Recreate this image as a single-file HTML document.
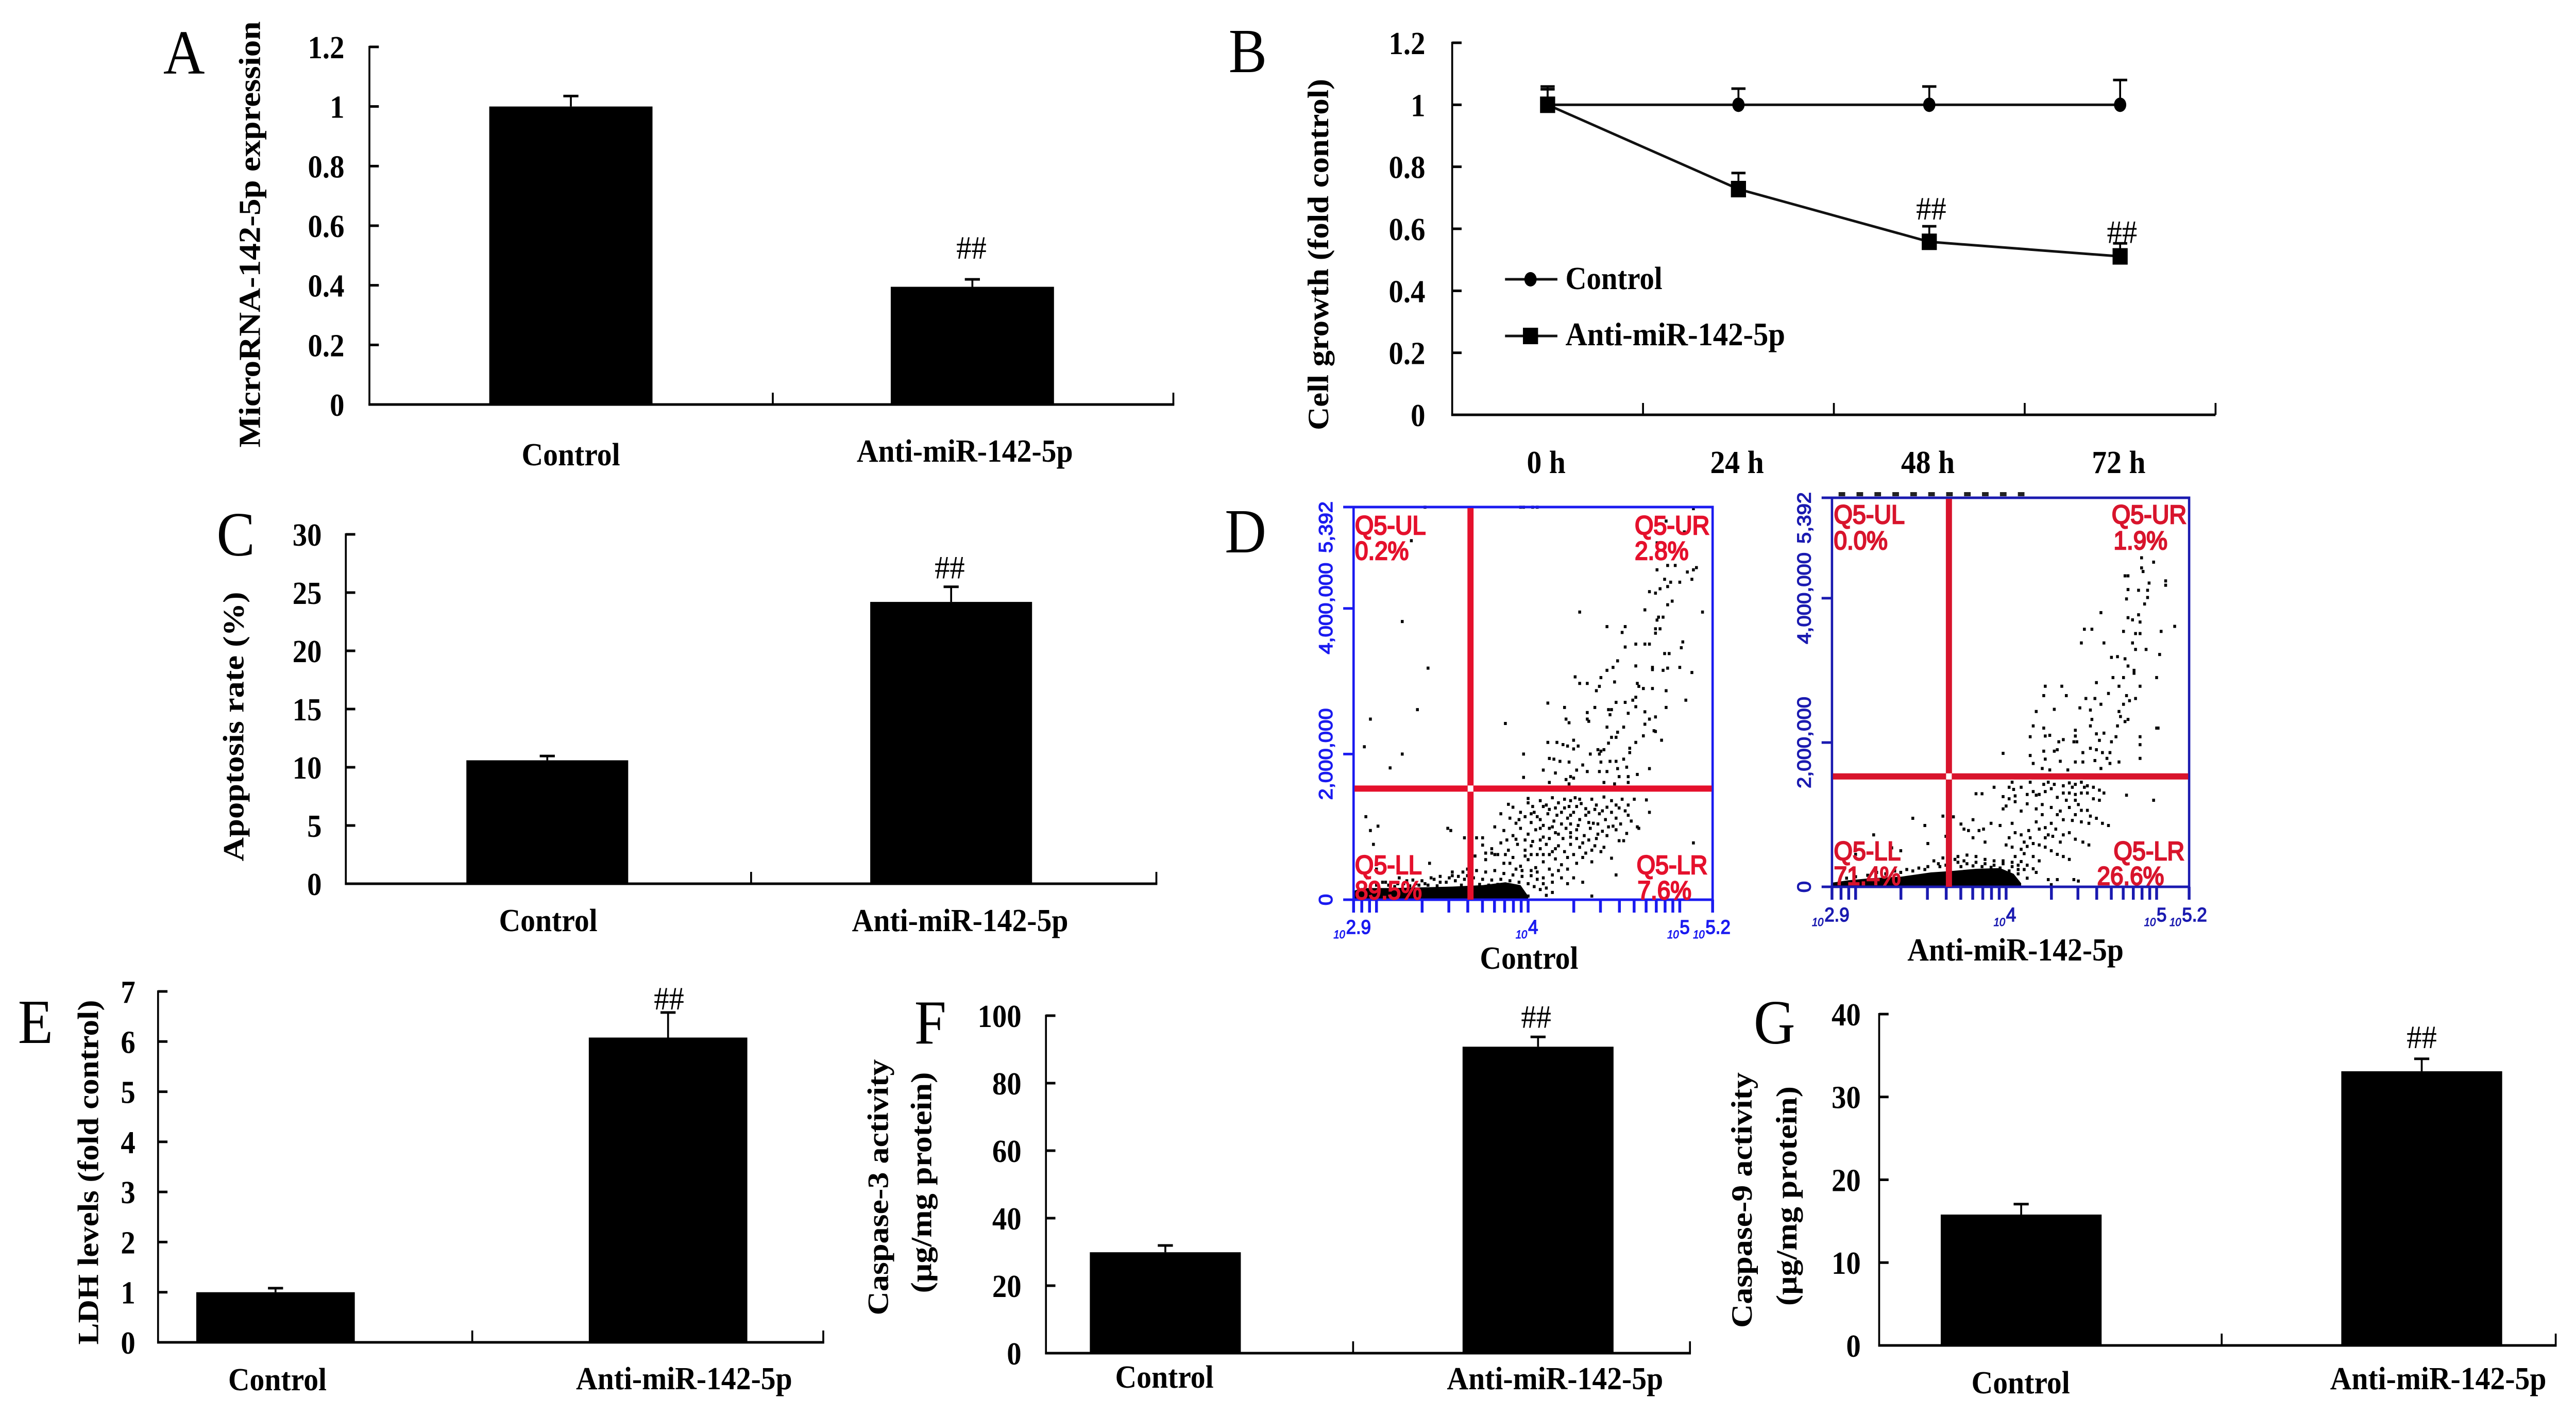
<!DOCTYPE html>
<html lang="en">
<head>
<meta charset="utf-8">
<title>miR-142-5p figure panels A-G</title>
<style>
html,body{margin:0;padding:0;background:#fff;width:100%;height:100%;overflow:hidden}
svg{display:block;width:100%;height:100%}
text{font-family:"Liberation Serif","Noto Serif CJK SC",serif;fill:#000}
.flow{font-family:"Liberation Sans","Noto Sans CJK SC",sans-serif}
</style>
</head>
<body>
<svg id="figure" xmlns="http://www.w3.org/2000/svg" viewBox="0 0 5460 2746" preserveAspectRatio="none">
<rect x="0" y="0" width="5460" height="2746" fill="#fff"/>
</svg>
<script>
/* ---------- Shared categories ---------- */
const barCategories = ['Control', 'Anti-miR-142-5p'];

/* ---------- Panel A ---------- */
const panelATicks = [0, 0.2, 0.4, 0.6, 0.8, 1, 1.2];
const panelAValues = [1.0, 0.395];
const panelAErrors = [0.035, 0.025];

/* ---------- Panel B ---------- */
const panelBTicks = [0, 0.2, 0.4, 0.6, 0.8, 1, 1.2];
const panelBTimes = ['0 h', '24 h', '48 h', '72 h'];
const panelBControl = [1, 1, 1, 1];
const panelBControlErr = [0.059, 0.052, 0.059, 0.08];
const panelBAnti = [1, 0.728, 0.558, 0.511];
const panelBAntiErr = [0.05, 0.052, 0.05, 0.042];
const panelBSignificant = [false, false, true, true];

/* ---------- Panel C ---------- */
const panelCTicks = [0, 5, 10, 15, 20, 25, 30];
const panelCValues = [10.6, 24.2];
const panelCErrors = [0.37, 1.3];

/* ---------- Panel E ---------- */
const panelETicks = [0, 1, 2, 3, 4, 5, 6, 7];
const panelEValues = [1.0, 6.08];
const panelEErrors = [0.08, 0.5];

/* ---------- Panel F ---------- */
const panelFTicks = [0, 20, 40, 60, 80, 100];
const panelFValues = [29.9, 90.8];
const panelFErrors = [2.0, 2.9];

/* ---------- Panel G ---------- */
const panelGTicks = [0, 10, 20, 30, 40];
const panelGValues = [15.8, 33.1];
const panelGErrors = [1.26, 1.5];

/* ---------- Panel D: flow cytometry axes ---------- */
const flowMinorTicks = [800, 900, 1000, 2000, 3000, 4000, 5000, 6000, 7000, 8000, 9000, 10000, 20000, 30000, 40000, 50000, 60000, 70000, 80000, 90000, 100000];
const flowXExponents = ['2.9', '4', '5', '5.2'];
const flowYTicks = [0, 2, 4, 5.392];
const flowYLabels = ['0', '2,000,000', '4,000,000', '5,392'];

/* Each event: [log10 of x signal, y signal in millions] */
const controlEvents = [
[3.32,5.39],[3.95,5.39],[3.97,5.39],[4.03,5.39],[4.06,5.39],[5.09,5.37],[4.91,5.2],[5.03,5.05],[4.85,4.9],[3.23,4.93],
[4.85,4.53],[4.92,4.59],[4.97,4.59],[5.11,4.56],[5.05,4.5],[5.09,4.53],[5.08,4.4],[5.0,4.36],[4.9,4.4],[4.94,4.36],[4.92,4.3],[4.8,4.23],[4.84,4.21],[4.87,4.27],[4.95,4.1],[4.92,4.05],[4.77,3.98],[5.15,3.95],[4.34,3.95],[4.86,3.88],[4.85,3.84],[4.89,3.88],[4.52,3.75],[4.64,3.75],[4.62,3.67],[4.84,3.72],[4.87,3.72],[4.84,3.66],[4.71,3.51],[4.77,3.51],[4.8,3.51],[4.64,3.47],[5.02,3.54],[5.01,3.46],[4.9,3.38],[4.93,3.38],[4.59,3.28],[4.71,3.21],[4.56,3.19],[4.52,3.15],[4.82,3.19],[4.82,3.16],[4.89,3.15],[4.92,3.18],[5.0,3.19],[5.08,3.12],[4.31,3.06],[4.48,3.05],[4.57,2.99],[4.34,2.97],[4.39,2.97],[4.47,2.93],[4.72,2.97],[4.73,2.93],[4.76,2.9],[4.82,2.9],[4.45,2.87],[4.91,2.87],[4.71,2.78],[4.69,2.74],[4.64,2.71],[5.04,2.74],[4.13,2.7],[4.58,2.71],[4.24,2.64],[4.44,2.64],[4.53,2.61],[4.55,2.61],[4.91,2.64],[4.66,2.56],[4.71,2.65],[4.77,2.58],[4.39,2.57],[4.54,2.54],[4.84,2.51],[4.8,2.48],[4.25,2.48],[4.39,2.48],[4.27,2.43],[4.4,2.45],[4.77,2.41],[3.85,2.42],[4.52,2.37],[4.63,2.37],[4.59,2.3],[4.83,2.32],[4.84,2.31],[4.76,2.25],[4.55,2.23],[4.58,2.23],[4.88,2.19],[4.3,2.19],[4.53,2.15],[4.13,2.16],[4.19,2.16],[4.71,2.16],[4.23,2.13],[4.26,2.11],[4.33,2.11],[4.3,2.07],[4.67,2.08],[4.46,2.06],[4.48,2.04],[4.5,2.06],[4.41,2.0],[4.47,2.0],[3.97,2.0],[4.67,2.02],[4.63,1.93],[4.14,1.94],[4.17,1.93],[4.21,1.9],[4.27,1.89],[4.36,1.85],[4.48,1.89],[4.54,1.9],[4.58,1.9],[4.8,1.8],[4.65,1.82],[4.59,1.8],[4.52,1.76],[4.32,1.78],[4.1,1.78],[4.18,1.74],[4.39,1.76],[4.47,1.76],[4.28,1.69],[3.97,1.68],[4.3,1.67],[4.72,1.72],[4.66,1.69],[4.6,1.69],[4.14,1.61],[4.25,1.65],[4.66,1.61],[4.57,1.59],[4.5,1.61],[4.27,1.59],
[3.17,3.82],[3.34,3.18],[3.27,2.61],[2.96,2.48],[2.92,2.1],[3.17,2.0],[3.09,1.81],[2.93,1.14],[3.01,1.01],[2.96,0.95],[3.47,0.98],[3.49,0.95],[2.98,0.76],[3.35,0.5],
[4.78,1.37],[4.8,1.2],[4.72,1.0],[4.73,0.98],[4.63,0.81],[4.65,0.91],[5.09,0.78],[4.58,0.34],[4.55,0.57],[4.48,0.66],[4.42,0.05],[4.36,0.24],[4.42,0.52],
[4.0,1.39],[3.87,1.31],[3.9,1.27],[3.95,1.2],[4.0,1.33],[4.03,1.28],[4.08,1.36],[4.12,1.3],[4.16,1.4],[4.2,1.33],[4.24,1.38],[4.27,1.28],[4.31,1.4],[4.35,1.32],[4.38,1.25],[4.42,1.38],[4.45,1.3],[4.5,1.41],[4.52,1.27],[4.55,1.36],[4.58,1.3],[4.62,1.38],[4.66,1.3],[4.7,1.38],
[3.82,1.18],[3.88,1.12],[3.92,1.05],[3.98,1.14],[4.04,1.2],[4.08,1.1],[4.13,1.18],[4.17,1.08],[4.22,1.2],[4.26,1.12],[4.3,1.2],[4.34,1.1],[4.38,1.16],[4.43,1.05],[4.47,1.18],[4.51,1.1],[4.55,1.2],[4.58,1.12],[4.61,1.04],[4.66,1.16],
[3.78,1.0],[3.84,0.95],[3.9,0.88],[3.95,0.98],[4.0,0.9],[4.05,0.96],[4.1,0.86],[4.14,0.98],[4.2,0.9],[4.25,0.98],[4.28,0.86],[4.32,0.96],[4.37,0.88],[4.41,0.98],[4.45,0.84],[4.49,0.94],[4.53,1.0],[4.56,1.01],[4.6,0.81],
[3.58,0.85],[3.63,0.85],[3.7,0.75],[3.76,0.7],[3.82,0.78],[3.87,0.68],[3.93,0.76],[3.98,0.68],[4.03,0.8],[4.08,0.7],[4.12,0.76],[4.16,0.66],[4.2,0.74],[4.24,0.66],[4.28,0.76],[4.3,0.62],[4.34,0.72],[4.38,0.64],
[3.65,0.6],[3.72,0.55],[3.78,0.62],[3.84,0.5],[3.9,0.58],[3.95,0.46],[4.0,0.55],[4.05,0.44],[4.1,0.52],[4.14,0.42],[4.18,0.56],[4.22,0.48],[4.26,0.58],[4.3,0.3],[4.16,0.34],[4.1,0.3],[4.02,0.33],
[3.6,0.42],[3.66,0.4],[3.72,0.38],[3.78,0.4],[3.84,0.36],[3.9,0.34],[3.96,0.32],[3.5,0.38],[3.42,0.32],[3.36,0.3],[3.3,0.26],[3.24,0.27],[3.18,0.22],[3.46,0.24],[3.52,0.26],[3.58,0.28],[3.64,0.3],[3.7,0.28],[3.76,0.27],[3.82,0.28],[3.88,0.26],[3.94,0.24],[4.0,0.22],[4.04,0.18],[4.08,0.14],[4.0,0.05],[3.92,0.03],[3.85,0.03],[4.12,0.06],[4.16,0.1],
[3.0,0.2],[3.06,0.24],[3.12,0.18],[3.15,0.3],[3.0,0.42],[2.94,0.3],[3.22,0.19],[3.28,0.2],[3.34,0.2],[3.4,0.19],[3.56,0.2],[3.62,0.2],[3.68,0.21],[3.74,0.2],[3.8,0.21],[3.86,0.2],
[3.66,0.85],[3.7,0.85],[3.72,0.64],[3.76,0.64],[3.8,0.62],[3.85,0.62],[3.88,0.5],[3.92,0.42],[3.96,0.4],[4.02,0.4],[4.06,0.38],[3.98,0.6],[4.02,0.62],[4.06,0.62],[4.1,0.62],[4.14,0.62],[4.18,0.7],[3.86,0.82],[3.92,0.83],[3.98,0.82],[4.02,0.74],[4.08,0.82],[4.14,0.84],[4.18,0.92],[4.23,0.84],[4.28,0.92],[4.32,0.84],[4.36,0.78],[4.4,0.82],[4.44,0.74],[4.46,0.9],[4.5,0.72],[4.08,0.98],[4.02,1.06],[4.1,1.02],[4.16,1.0],[4.22,1.04],[4.28,1.04],[4.33,1.02],[4.4,1.06],[4.46,1.04],[4.49,1.22],[4.44,1.24],[4.4,1.2],[4.32,1.28],[4.28,1.16],[4.24,1.26],[4.19,1.16],[4.14,1.24],[4.1,1.28],[4.06,1.14],[4.02,1.18],[3.94,1.1],[4.34,1.38],[4.28,1.36],[4.18,1.26],[4.6,1.26],[4.64,1.22],[4.68,1.08],[4.58,0.96],[4.52,0.88],[4.42,0.68],[4.36,0.58],[4.32,0.5],[4.26,0.42],[4.2,0.4],[4.22,0.3],[4.16,0.24],[4.1,0.22],[4.06,0.28],[4.12,0.16],[4.26,0.22],
[3.42,0.24],[3.38,0.28],[3.32,0.22],[3.26,0.22],[3.2,0.26],[3.14,0.22],[3.08,0.2],[3.04,0.24],[3.48,0.3],[3.54,0.32],[3.6,0.33],[3.57,0.38],[3.5,0.33]
];
const controlBandLog = [2.85, 2.9, 3.1, 3.3, 3.5, 3.7, 3.85, 3.95, 4.0];
const controlBandTop = [0.12, 0.16, 0.16, 0.17, 0.18, 0.2, 0.24, 0.2, 0.05];

const antiEvents = [
[4.9,4.56],[4.98,4.5],[4.9,4.42],[4.91,4.37],[4.79,4.31],[4.81,4.31],[5.06,4.24],[5.06,4.18],[4.95,4.21],[4.81,4.12],[4.88,4.11],[4.94,4.11],[4.94,4.01],[4.8,3.99],[4.92,3.92],[4.63,3.8],[4.81,3.73],[4.84,3.7],[4.88,3.77],[4.89,3.67],[4.78,3.54],[5.03,3.54],[5.12,3.61],[4.52,3.57],[4.57,3.57],[4.86,3.51],[4.89,3.51],[4.5,3.38],[4.65,3.38],[4.84,3.38],[4.86,3.29],[4.93,3.29],[5.02,3.22],[4.7,3.18],[4.74,3.19],[4.79,3.16],[4.81,3.06],[4.85,3.0],[4.85,2.96],[4.71,2.9],[4.78,2.9],[5.0,2.9],[4.6,2.83],[4.26,2.78],[4.37,2.78],[4.75,2.78],[4.89,2.78],[4.25,2.65],[4.4,2.65],[4.68,2.68],[4.8,2.65],[4.53,2.61],[4.59,2.61],[4.86,2.61],[4.82,2.58],[4.78,2.53],[4.63,2.53],[4.49,2.48],[4.56,2.45],[4.2,2.43],[4.32,2.46],[4.75,2.43],[4.57,2.32],[4.81,2.32],[4.76,2.36],[4.79,2.29],[4.56,2.23],[4.74,2.23],[4.18,2.23],[4.25,2.2],[4.46,2.17],[5.01,2.2],[5.0,2.2],[4.6,2.12],[4.65,2.13],[4.73,2.08],[4.89,2.08],[4.16,2.08],[4.26,2.09],[4.29,2.1],[4.46,2.09],[4.62,2.03],[4.7,2.01],[4.45,2.01],[4.47,2.01],[4.38,2.04],[4.35,2.01],[4.89,1.97],[4.34,1.9],[4.51,1.86],[4.56,1.92],[4.6,1.9],[4.64,1.86],[4.69,1.86],[4.25,1.88],[4.32,1.88],[3.98,1.85],[4.16,1.82],[4.89,1.78],[4.67,1.78],[4.59,1.75],[4.51,1.73],[4.26,1.77],[4.36,1.74],[4.46,1.73],[4.18,1.71],[4.75,1.73],[4.69,1.71],[4.63,1.64],[4.41,1.62],[4.29,1.62],[4.24,1.64],
[4.04,1.45],[4.02,1.38],[4.05,1.35],[3.84,1.29],[3.8,1.29],[3.92,1.38],[4.18,1.32],[4.2,1.27],[4.22,1.28],[4.16,1.45],[4.25,1.42],[4.28,1.45],[4.38,1.4],[4.42,1.44],[4.46,1.42],[4.5,1.45],[4.54,1.4],[4.58,1.38],[4.62,1.34],[4.8,1.27],[4.65,1.3],[4.62,1.2],[4.58,1.22],[4.54,1.3],[4.5,1.3],[4.46,1.28],[4.42,1.3],[4.38,1.3],[4.34,1.24],[4.46,1.2],[4.98,1.2],
[3.98,1.25],[4.02,1.22],[4.06,1.18],[4.0,1.12],[3.98,1.08],[4.1,1.05],[4.14,1.15],[4.2,1.08],[4.24,1.0],[4.3,1.1],[4.36,1.05],[4.42,1.1],[4.46,1.0],[4.5,1.06],[4.56,0.98],[4.6,0.95],[4.64,0.88],[4.68,0.85],[4.55,0.88],[4.5,0.9],[4.38,0.93],
[3.65,0.97],[3.78,0.93],[3.7,0.87],[3.72,0.8],[3.75,0.78],[3.82,0.78],[3.85,0.8],[3.9,0.88],[3.96,0.85],[4.04,0.88],[4.06,0.75],[4.1,0.72],[4.02,0.68],[4.15,0.78],[4.2,0.9],[4.22,0.8],[4.26,0.82],[4.28,0.72],[4.31,0.7],[4.33,0.8],[4.38,0.72],[4.42,0.75],[4.46,0.66],[4.55,0.58],[4.51,0.62],
[3.78,0.68],[3.86,0.62],[4.0,0.58],[4.04,0.55],[4.1,0.52],[4.14,0.56],[4.18,0.6],[4.22,0.58],[4.26,0.55],[4.3,0.5],[4.34,0.45],[4.38,0.42],[4.42,0.38],[4.06,0.42],[4.1,0.35],[4.14,0.3],[4.18,0.25],[4.2,0.2],
[3.38,0.95],[3.58,0.98],[3.46,0.85],[3.6,0.7],[3.62,0.66],[3.12,0.72],[3.24,0.54],[3.3,0.5],[3.0,0.45],[3.48,0.6],[3.52,0.36],[3.58,0.4],[3.66,0.38],[3.72,0.36],[3.8,0.34],[3.86,0.32],[3.92,0.3],[3.98,0.32],[4.04,0.28],[4.08,0.24],[4.28,0.1],[4.34,0.1],[4.45,0.1],[4.48,0.08],[4.3,0.03],[4.14,0.12],[4.06,0.04],
[3.2,0.18],[3.3,0.2],[3.38,0.22],[3.46,0.24],[3.56,0.28],[3.6,0.3],[3.7,0.28],[3.78,0.29],[3.84,0.28],[3.9,0.27],[3.96,0.26],[4.02,0.22],[4.08,0.18],[3.0,0.14],[3.08,0.16],[2.94,0.12],
[3.68,0.42],[3.74,0.44],[3.8,0.42],[3.86,0.38],[3.68,0.34],[3.74,0.32],[3.92,0.36],[3.98,0.36],[4.04,0.34],[3.55,0.32],[3.48,0.28],[3.42,0.26],[3.34,0.24],[3.26,0.22],[3.14,0.2],[4.12,0.24],[4.08,0.3],[4.12,0.46],[4.18,0.42],[4.22,0.36],[4.26,0.68],[4.3,0.88],[4.34,1.0],[4.24,1.14],[4.4,1.2],[4.44,1.38],[4.32,1.42],[4.1,1.38],[4.06,1.26],[4.14,1.28],[4.26,1.32],[4.3,1.36],[4.52,1.38],[4.48,1.14],[4.54,1.06],[4.44,0.92],[4.36,0.62],[4.16,0.68],[4.12,0.62]
];
const antiBandLog = [2.85, 2.95, 3.1, 3.3, 3.5, 3.64, 3.8, 3.96, 4.05, 4.1];
const antiBandTop = [0.06, 0.09, 0.12, 0.14, 0.2, 0.22, 0.25, 0.26, 0.18, 0.05];

/* ---------- Helpers ---------- */
const NS = 'http://www.w3.org/2000/svg';
const figure = document.getElementById('figure');

function make(tag, parent, props) {
  const el = document.createElementNS(NS, tag);
  for (const k in props) el.setAttribute(k, props[k]);
  parent.appendChild(el);
  return el;
}
function label(parent, str, x, y, props) {
  const el = make('text', parent, Object.assign({ x: x, y: y }, props));
  el.textContent = str;
  return el;
}
function slug(s) {
  return String(s).toLowerCase().replace(/[^a-z0-9]+/g, '-').replace(/^-|-$/g, '');
}
function linear(d0, d1, r0, r1) {
  return function (v) { return r0 + (v - d0) * (r1 - r0) / (d1 - d0); };
}

function panelGroup(name) {
  const g = make('g', figure, {});
  
  
  return g;
}
function panelLetter(parent, str, x, y) {
  const t = label(parent, str, x, y, { 'font-size': 122 });
  
  
}
function yTitle(parent, str, baseX, centerY, len, size) {
  const t = label(parent, str, 0, 0, {
    transform: 'translate(' + baseX + ' ' + centerY + ') rotate(-90)',
    'text-anchor': 'middle', 'font-size': size, 'font-weight': 'bold',
    textLength: len, lengthAdjust: 'spacingAndGlyphs'
  });
  
  
}
function drawYAxis(parent, x0, yScale, ticks, labelRight) {
  const axis = make('line', parent, { x1: x0, x2: x0, y1: yScale(ticks[ticks.length - 1]) - 2, y2: yScale(ticks[0]) + 2, stroke: '#000', 'stroke-width': 4 });
  
  
  ticks.forEach(function (v) {
    const tk = make('line', parent, { x1: x0, x2: x0 + 20, y1: yScale(v), y2: yScale(v), stroke: '#000', 'stroke-width': 5 });
    
    
    const t = label(parent, String(v), labelRight, yScale(v) + 22, { 'text-anchor': 'end', 'font-size': 62, 'font-weight': 'bold' });
    
    
  });
}
function drawErrorBar(parent, x, yFrom, yTo, halfCap, name) {
  const stem = make('line', parent, { x1: x, x2: x, y1: yFrom, y2: yTo, stroke: '#000', 'stroke-width': 4 });
  
  
  const cap = make('line', parent, { x1: x - halfCap, x2: x + halfCap, y1: yTo, y2: yTo, stroke: '#000', 'stroke-width': 5 });
  
  
}

/* ---------- Bar panels ---------- */
function drawBarPanel(cfg) {
  const g = panelGroup(cfg.name);
  const ticks = cfg.ticks;
  const yScale = linear(ticks[0], ticks[ticks.length - 1], cfg.yZero, cfg.yTop);
  const xScale = linear(0, 1, cfg.firstCenter, cfg.secondCenter);

  drawYAxis(g, cfg.x0, yScale, ticks, cfg.tickRight);

  cfg.values.forEach(function (v, i) {
    const cx = xScale(i);
    drawErrorBar(g, cx, yScale(v), yScale(v + cfg.errors[i]), 16, 'error-bar-' + slug(barCategories[i]));
    const bar = make('rect', g, { x: cx - cfg.barWidth / 2, y: yScale(v), width: cfg.barWidth, height: yScale(0) - yScale(v), fill: '#000' });
    
    
    const t = label(g, barCategories[i], cfg.labelX[i], cfg.labelY[i], { 'text-anchor': 'middle', 'font-size': 63, 'font-weight': 'bold' });
    
    
  });

  const last = cfg.values.length - 1;
  const mark = label(g, '##', xScale(last) + cfg.hashDx, yScale(cfg.values[last] + cfg.errors[last]) - cfg.hashGap, { 'text-anchor': 'middle', 'font-size': 64 });
  
  

  const xAxis = make('line', g, { x1: cfg.x0 - 2, x2: cfg.xEnd + 2, y1: yScale(0), y2: yScale(0), stroke: '#000', 'stroke-width': 5 });
  
  
  const midTick = make('line', g, { x1: cfg.xMid, x2: cfg.xMid, y1: yScale(0), y2: yScale(0) - 23, stroke: '#000', 'stroke-width': 4 });
  
  
  const endTick = make('line', g, { x1: cfg.xEnd, x2: cfg.xEnd, y1: yScale(0), y2: yScale(0) - 23, stroke: '#000', 'stroke-width': 4 });
  
  
  return g;
}

const panelA = drawBarPanel({ name: 'panel-a-mirna-expression', ticks: panelATicks, values: panelAValues, errors: panelAErrors,
  x0: 783, xMid: 1638, xEnd: 2487, yTop: 91, yZero: 785, firstCenter: 1210, secondCenter: 2061, barWidth: 346,
  tickRight: 730, labelX: [1210, 2045], labelY: [903, 896], hashDx: -2, hashGap: 40 });
panelLetter(panelA, 'A', 346, 143);
yTitle(panelA, 'MicroRNA-142-5p expression', 551, 455, 827, 65);

const panelC = drawBarPanel({ name: 'panel-c-apoptosis-rate', ticks: panelCTicks, values: panelCValues, errors: panelCErrors,
  x0: 733, xMid: 1592, xEnd: 2451, yTop: 1037, yZero: 1715, firstCenter: 1160, secondCenter: 2016, barWidth: 343,
  tickRight: 682, labelX: [1162, 2035], labelY: [1807, 1807], hashDx: -3, hashGap: 16 });
panelLetter(panelC, 'C', 459, 1078);
yTitle(panelC, 'Apoptosis rate (%)', 516, 1410, 523, 62);

const panelE = drawBarPanel({ name: 'panel-e-ldh-levels', ticks: panelETicks, values: panelEValues, errors: panelEErrors,
  x0: 335, xMid: 1001, xEnd: 1745, yTop: 1924, yZero: 2605, firstCenter: 584, secondCenter: 1416, barWidth: 336,
  tickRight: 287, labelX: [588, 1450], labelY: [2698, 2696], hashDx: 2, hashGap: 6 });
panelLetter(panelE, 'E', 38, 2024);
yTitle(panelE, 'LDH levels (fold control)', 208, 2275, 669, 62);

const panelF = drawBarPanel({ name: 'panel-f-caspase-3-activity', ticks: panelFTicks, values: panelFValues, errors: panelFErrors,
  x0: 2217, xMid: 2868, xEnd: 3582, yTop: 1971, yZero: 2626, firstCenter: 2470, secondCenter: 3260, barWidth: 320,
  tickRight: 2165, labelX: [2468, 3296], labelY: [2693, 2696], hashDx: -4, hashGap: 18 });
panelLetter(panelF, 'F', 1938, 2025);
yTitle(panelF, 'Caspase-3 activity', 1882, 2304, 497, 62);
yTitle(panelF, '(μg/mg protein)', 1974, 2295, 429, 62);

const panelG = drawBarPanel({ name: 'panel-g-caspase-9-activity', ticks: panelGTicks, values: panelGValues, errors: panelGErrors,
  x0: 3983, xMid: 4709, xEnd: 5417, yTop: 1968, yZero: 2611, firstCenter: 4284, secondCenter: 5133, barWidth: 341,
  tickRight: 3944, labelX: [4283, 5168], labelY: [2704, 2696], hashDx: 0, hashGap: 21 });
panelLetter(panelG, 'G', 3717, 2025);
yTitle(panelG, 'Caspase-9 activity', 3713, 2329, 496, 62);
yTitle(panelG, '(μg/mg protein)', 3808, 2321, 426, 62);

/* ---------- Panel B: line chart ---------- */
(function () {
  const g = panelGroup('panel-b-cell-growth');
  const x0 = 3078, step = 404.5, yZero = 805, yTop = 83;
  const yScale = linear(0, 1.2, yZero, yTop);
  const xScale = function (i) { return x0 + step * (i + 0.5); };
  const tickRight = 3021;

  panelLetter(g, 'B', 2604, 140);
  yTitle(g, 'Cell growth (fold control)', 2815, 494, 682, 62);
  drawYAxis(g, x0, yScale, panelBTicks, tickRight);

  const xAxis = make('line', g, { x1: x0 - 2, x2: x0 + step * panelBTimes.length, y1: yZero, y2: yZero, stroke: '#000', 'stroke-width': 5 });
  
  

  panelBTimes.forEach(function (name, i) {
    const tk = make('line', g, { x1: x0 + step * (i + 1), x2: x0 + step * (i + 1), y1: yZero, y2: yZero - 23, stroke: '#000', 'stroke-width': 4 });
    
    
    const t = label(g, name, xScale(i) - 3, 918, { 'text-anchor': 'middle', 'font-size': 63, 'font-weight': 'bold' });
    
    
  });

  function polyPoints(vals) {
    return vals.map(function (v, i) { return xScale(i) + ',' + yScale(v); }).join(' ');
  }

  const controlLine = make('polyline', g, { points: polyPoints(panelBControl), fill: 'none', stroke: '#111', 'stroke-width': 5 });
  
  
  const antiLine = make('polyline', g, { points: polyPoints(panelBAnti), fill: 'none', stroke: '#111', 'stroke-width': 5 });
  
  

  panelBControl.forEach(function (v, i) {
    drawErrorBar(g, xScale(i), yScale(v), yScale(v + panelBControlErr[i]), 15, 'error-bar-control-' + slug(panelBTimes[i]));
    const dot = make('ellipse', g, { cx: xScale(i), cy: yScale(v), rx: 13, ry: 14, fill: '#000' });
    
    
  });
  panelBAnti.forEach(function (v, i) {
    drawErrorBar(g, xScale(i), yScale(v), yScale(v + panelBAntiErr[i]), 15, 'error-bar-anti-' + slug(panelBTimes[i]));
    const sq = make('rect', g, { x: xScale(i) - 16, y: yScale(v) - 16, width: 32, height: 32, fill: '#000' });
    
    
    if (panelBSignificant[i]) {
      const mark = label(g, '##', xScale(i) + 4, yScale(v + panelBAntiErr[i]) - 13 - (i === 3 ? -12 : 0), { 'text-anchor': 'middle', 'font-size': 64 });
      
      
    }
  });

  const legendLine1 = make('line', g, { x1: 3190, x2: 3301, y1: 542, y2: 542, stroke: '#111', 'stroke-width': 5 });
  
  
  const legendDot = make('ellipse', g, { cx: 3244, cy: 542, rx: 13, ry: 14, fill: '#000' });
  
  
  const legendText1 = label(g, 'Control', 3318, 561, { 'font-size': 62, 'font-weight': 'bold' });
  
  

  const legendLine2 = make('line', g, { x1: 3190, x2: 3301, y1: 652, y2: 652, stroke: '#111', 'stroke-width': 5 });
  
  
  const legendSq = make('rect', g, { x: 3228, y: 636, width: 32, height: 32, fill: '#000' });
  
  
  const legendText2 = label(g, 'Anti-miR-142-5p', 3318, 670, { 'font-size': 64, 'font-weight': 'bold' });
  
  
})();

/* ---------- Panel D: flow cytometry plots ---------- */
function drawFlowPanel(cfg) {
  const g = panelGroup(cfg.name);
  const xScale = linear(cfg.logMin, cfg.logMax, cfg.left, cfg.right);
  const yScale = linear(0, 5.392, cfg.bottom, cfg.top);
  const blue = cfg.blue, red = cfg.red;

  const band = cfg.bandLog.map(function (v, i) { return xScale(v) + ',' + yScale(cfg.bandTop[i]); });
  band.unshift(xScale(cfg.bandLog[0]) + ',' + yScale(0));
  band.push(xScale(cfg.bandLog[cfg.bandLog.length - 1]) + ',' + yScale(0));
  const dense = make('polygon', g, { points: band.join(' '), fill: '#000' });
  
  

  cfg.events.forEach(function (e) {
    const dot = make('rect', g, { x: xScale(e[0]) - 3, y: yScale(e[1]) - 3, width: 6, height: 6, fill: '#000' });
    
    
  });

  const frame = make('rect', g, { x: cfg.left, y: cfg.top, width: cfg.right - cfg.left, height: cfg.bottom - cfg.top, fill: 'none', stroke: blue, 'stroke-width': 5 });
  
  

  flowYTicks.forEach(function (v, i) {
    const tk = make('line', g, { x1: cfg.left - 22, x2: cfg.left, y1: yScale(v), y2: yScale(v), stroke: blue, 'stroke-width': 5 });
    
    
    const cy = yScale(v) + (i === flowYTicks.length - 1 ? 39 : 0);
    const t = label(g, flowYLabels[i], 0, 0, { class: 'flow', transform: 'translate(' + cfg.yLabelX + ' ' + cy + ') rotate(-90)', 'text-anchor': 'middle', 'font-size': 40, style: 'fill:' + blue + ';stroke:' + blue + ';stroke-width:1.5' });
    
    
  });

  [cfg.logMin, cfg.logMax].concat(flowMinorTicks.map(function (v) { return Math.log10(v); })).forEach(function (lg) {
    const tk = make('line', g, { x1: xScale(lg), x2: xScale(lg), y1: cfg.bottom, y2: cfg.bottom + 25, stroke: blue, 'stroke-width': 6 });
    
    
  });

  flowXExponents.forEach(function (ex, i) {
    let px = xScale(parseFloat(ex));
    if (i === 0) px = cfg.left - 16;
    if (i === flowXExponents.length - 1) px = cfg.right - 15;
    const base = label(g, '10', px - 2, cfg.xLabelY + 9, { class: 'flow', 'text-anchor': 'end', 'font-size': 22, 'font-style': 'italic', style: 'fill:' + blue + ';stroke:' + blue + ';stroke-width:1' });
    
    
    const exp = label(g, ex, px, cfg.xLabelY, { class: 'flow', 'font-size': 38, style: 'fill:' + blue + ';stroke:' + blue + ';stroke-width:1.5' });
    
    
  });

  const gv = make('line', g, { x1: xScale(cfg.gateLog), x2: xScale(cfg.gateLog), y1: cfg.top + 2, y2: cfg.bottom, stroke: red, 'stroke-width': 13 });
  
  
  const gh = make('line', g, { x1: cfg.left + 2, x2: cfg.right - 2, y1: yScale(cfg.gateY), y2: yScale(cfg.gateY), stroke: red, 'stroke-width': 12 });
  
  
  const handle = make('rect', g, { x: xScale(cfg.gateLog) - 6, y: yScale(cfg.gateY) - 6, width: 12, height: 12, fill: '#fff' });
  
  

  cfg.quadrants.forEach(function (q) {
    const nm = label(g, q.id, q.x, q.y1, { class: 'flow', 'font-size': 51, style: 'fill:' + red + ';stroke:' + red + ';stroke-width:2.5' });
    
    
    const pct = label(g, q.pct, q.xp, q.y2, { class: 'flow', 'font-size': 50, style: 'fill:' + red + ';stroke:' + red + ';stroke-width:2.5' });
    
    
  });

  const title = label(g, cfg.title, cfg.titleX, cfg.titleY, { 'text-anchor': 'middle', 'font-size': 63, 'font-weight': 'bold' });
  
  
  return g;
}

const panelD1 = drawFlowPanel({
  name: 'panel-d-flow-control', title: 'Control', titleX: 3241, titleY: 1880,
  left: 2869, right: 3630, top: 984, bottom: 1746, logMin: 2.849, logMax: 5.2166,
  gateLog: 3.62, gateY: 1.526, blue: '#1a1af0', red: '#e5102c', yLabelX: 2824, xLabelY: 1812,
  events: controlEvents, bandLog: controlBandLog, bandTop: controlBandTop,
  quadrants: [
    { id: 'Q5-UL', pct: '0.2%', x: 2872, xp: 2872, y1: 1037, y2: 1086 },
    { id: 'Q5-UR', pct: '2.8%', x: 3465, xp: 3465, y1: 1037, y2: 1086 },
    { id: 'Q5-LL', pct: '89.5%', x: 2872, xp: 2872, y1: 1696, y2: 1745 },
    { id: 'Q5-LR', pct: '7.6%', x: 3469, xp: 3471, y1: 1696, y2: 1745 }
  ]
});
panelLetter(panelD1, 'D', 2596, 1072);

const panelD2 = drawFlowPanel({
  name: 'panel-d-flow-anti-mir', title: 'Anti-miR-142-5p', titleX: 4272, titleY: 1864,
  left: 3883, right: 4640, top: 966, bottom: 1721, logMin: 2.843, logMax: 5.216,
  gateLog: 3.62, gateY: 1.53, blue: '#1a1ab0', red: '#d8142c', yLabelX: 3838, xLabelY: 1788,
  events: antiEvents, bandLog: antiBandLog, bandTop: antiBandTop,
  quadrants: [
    { id: 'Q5-UL', pct: '0.0%', x: 3887, xp: 3887, y1: 1016, y2: 1066 },
    { id: 'Q5-UR', pct: '1.9%', x: 4476, xp: 4480, y1: 1016, y2: 1066 },
    { id: 'Q5-LL', pct: '71.4%', x: 3887, xp: 3887, y1: 1669, y2: 1717 },
    { id: 'Q5-LR', pct: '26.6%', x: 4480, xp: 4445, y1: 1669, y2: 1717 }
  ]
});
const cropped = make('line', panelD2, { x1: 3897, x2: 4294, y1: 959, y2: 959, stroke: '#222', 'stroke-width': 8, 'stroke-dasharray': '14 24' });


</script>
</body>
</html>
